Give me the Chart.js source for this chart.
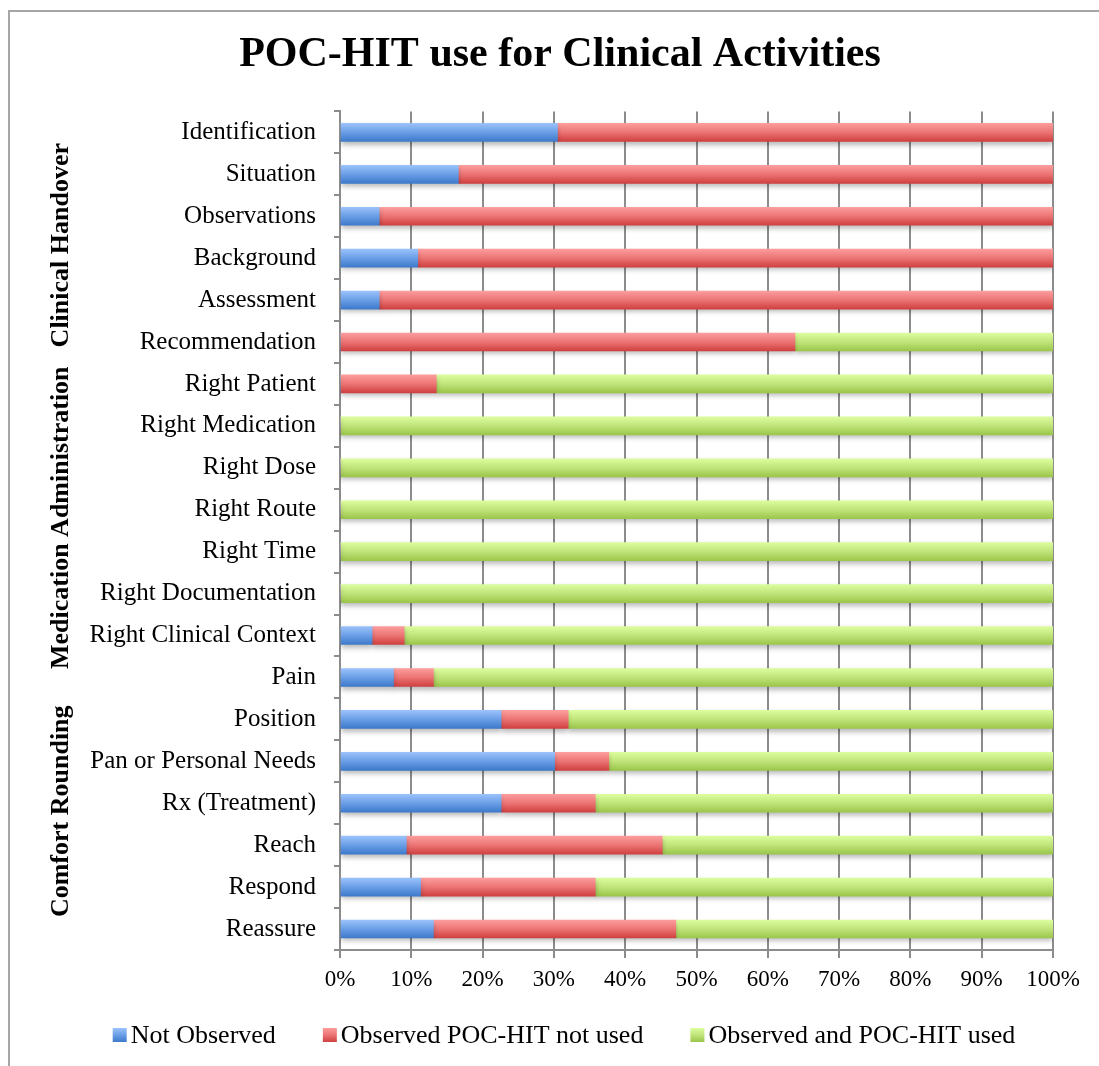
<!DOCTYPE html>
<html>
<head>
<meta charset="utf-8">
<script src="https://cdn.jsdelivr.net/npm/chart.js@4"></script>
<style>
  body { margin: 0; background: #fff; }
  #wrap { width: 1099px; height: 1066px; position: relative; }
</style>
</head>
<body>
<div id="wrap"><canvas id="chart"></canvas></div>
<script>
const CATEGORIES = [
  'Identification', 'Situation', 'Observations', 'Background', 'Assessment', 'Recommendation',
  'Right Patient', 'Right Medication', 'Right Dose', 'Right Route', 'Right Time',
  'Right Documentation', 'Right Clinical Context',
  'Pain', 'Position', 'Pan or Personal Needs', 'Rx (Treatment)', 'Reach', 'Respond', 'Reassure'
];
const NOT_OBSERVED = [30.5, 16.6, 5.5, 10.9, 5.5, 0, 0, 0, 0, 0, 0, 0, 4.5, 7.5, 22.6, 30.1, 22.6, 9.3, 11.3, 13.1];
const OBSERVED_NOT_USED = [69.5, 83.4, 94.5, 89.1, 94.5, 63.8, 13.5, 0, 0, 0, 0, 0, 4.5, 5.6, 9.4, 7.6, 13.2, 35.9, 24.5, 34.0];
const OBSERVED_USED = [0, 0, 0, 0, 0, 36.2, 86.5, 100, 100, 100, 100, 100, 91, 86.9, 68.0, 62.3, 64.2, 54.8, 64.2, 52.9];
const X_TICKS = ['0%', '10%', '20%', '30%', '40%', '50%', '60%', '70%', '80%', '90%', '100%'];
const GROUPS = [
  {label: 'Clinical Handover', from: 0, to: 5},
  {label: 'Medication Administration', from: 6, to: 12},
  {label: 'Comfort Rounding', from: 13, to: 19},
];

const FONT = "'Liberation Serif', 'Times New Roman', serif";
const GRID = '#8c8c8c';
const BAR_H = 18;
const COLORS = [
  ['#9ac2fb', '#6a9ee6', '#3d7acb'],
  ['#fd9d9d', '#ec7474', '#cf4040'],
  ['#dcfd9e', '#c0e47a', '#9bc64b'],
];

function vGrad(ctx, y0, h, [top, mid, bottom]) {
  const g = ctx.createLinearGradient(0, y0, 0, y0 + h);
  g.addColorStop(0, top);
  g.addColorStop(0.5, mid);
  g.addColorStop(1, bottom);
  return g;
}

// vertical gradient per bar, light on top, dark at bottom
const barGradient = cols => ctx => {
  const chart = ctx.chart;
  const y = chart.scales.y;
  if (!y || ctx.dataIndex === undefined) return cols[1];
  const c = y.getPixelForValue(ctx.dataIndex);
  if (!Number.isFinite(c)) return cols[1];
  return vGrad(chart.ctx, c - BAR_H / 2, BAR_H, cols);
};

const frame = {
  id: 'frame',
  beforeDraw(chart) {
    const ctx = chart.ctx;
    ctx.save();
    ctx.strokeStyle = '#a6a6a6';
    ctx.lineWidth = 2;
    ctx.strokeRect(9, 11, chart.width + 50, chart.height + 50);
    ctx.restore();
  },
};

const barShadow = {
  id: 'barShadow',
  beforeDatasetsDraw(chart) {
    const ctx = chart.ctx;
    ctx.save();
    ctx.shadowColor = 'rgba(0,0,0,0.28)';
    ctx.shadowBlur = 5;
    ctx.shadowOffsetY = 3;
  },
  afterDatasetsDraw(chart) {
    chart.ctx.restore();
  },
};

const groupLabels = {
  id: 'groupLabels',
  afterDraw(chart) {
    const ctx = chart.ctx;
    const y = chart.scales.y;
    ctx.save();
    ctx.font = `bold 26px ${FONT}`;
    ctx.fillStyle = '#000';
    ctx.textAlign = 'center';
    ctx.textBaseline = 'middle';
    for (const g of GROUPS) {
      const mid = (y.getPixelForValue(g.from) + y.getPixelForValue(g.to)) / 2 + 8;
      ctx.save();
      ctx.translate(y.left - 6, mid);
      ctx.rotate(-Math.PI / 2);
      ctx.fillText(g.label, 0, 0);
      ctx.restore();
    }
    ctx.restore();
  },
};

// legend drawn by hand so the item spacing can match
const bottomLegend = {
  id: 'bottomLegend',
  afterDraw(chart) {
    const ctx = chart.ctx;
    const sets = chart.data.datasets;
    const box = 14, gap = 4, itemGap = 47;
    ctx.save();
    ctx.font = `26px ${FONT}`;
    ctx.textBaseline = 'middle';
    const widths = sets.map(d => box + gap + ctx.measureText(d.label).width);
    const total = widths.reduce((a, b) => a + b, 0) + itemGap * (sets.length - 1);
    const cy = chart.chartArea.bottom + 85;
    let x = 564 - total / 2;
    sets.forEach((d, i) => {
      ctx.fillStyle = vGrad(ctx, cy - box / 2, box, COLORS[i]);
      ctx.fillRect(x, cy - box / 2, box, box);
      ctx.fillStyle = '#000';
      ctx.fillText(d.label, x + box + gap, cy + 1);
      x += widths[i] + itemGap;
    });
    ctx.restore();
  },
};

Chart.defaults.font.family = FONT;
Chart.defaults.color = '#000';

new Chart(document.getElementById('chart'), {
  type: 'bar',
  data: {
    labels: CATEGORIES,
    datasets: [
      {label: 'Not Observed', data: NOT_OBSERVED, backgroundColor: barGradient(COLORS[0])},
      {label: 'Observed POC-HIT not used', data: OBSERVED_NOT_USED, backgroundColor: barGradient(COLORS[1])},
      {label: 'Observed and POC-HIT used', data: OBSERVED_USED, backgroundColor: barGradient(COLORS[2])},
    ],
  },
  options: {
    indexAxis: 'y',
    responsive: true,
    maintainAspectRatio: false,
    animation: false,
    devicePixelRatio: 1,
    barThickness: BAR_H,
    layout: {padding: {left: 67, right: 46, top: 0, bottom: 56}},
    scales: {
      x: {
        stacked: true,
        min: 0,
        max: 100,
        afterFit: s => { s.height = 60; },
        afterBuildTicks: s => {
          s.ticks = X_TICKS.map((t, i) => ({value: i * 10}));
        },
        ticks: {
          callback: (v, i) => X_TICKS[i],
          font: {size: 23},
          padding: 8,
          maxRotation: 0,
        },
        grid: {color: GRID, lineWidth: 2, tickLength: 8},
        border: {color: GRID, width: 2},
      },
      y: {
        stacked: true,
        afterFit: s => { s.width = 273; },
        ticks: {font: {size: 25}, padding: 18, autoSkip: false},
        grid: {drawOnChartArea: false, color: GRID, lineWidth: 2, tickLength: 6},
        border: {color: GRID, width: 2},
      },
    },
    plugins: {
      title: {
        display: true,
        text: 'POC-HIT use for Clinical Activities',
        font: {size: 42, weight: 'bold'},
        color: '#000',
        padding: {top: 30, bottom: 31},
      },
      legend: {display: false},
      tooltip: {enabled: false},
    },
  },
  plugins: [frame, barShadow, groupLabels, bottomLegend],
});
</script>
</body>
</html>
